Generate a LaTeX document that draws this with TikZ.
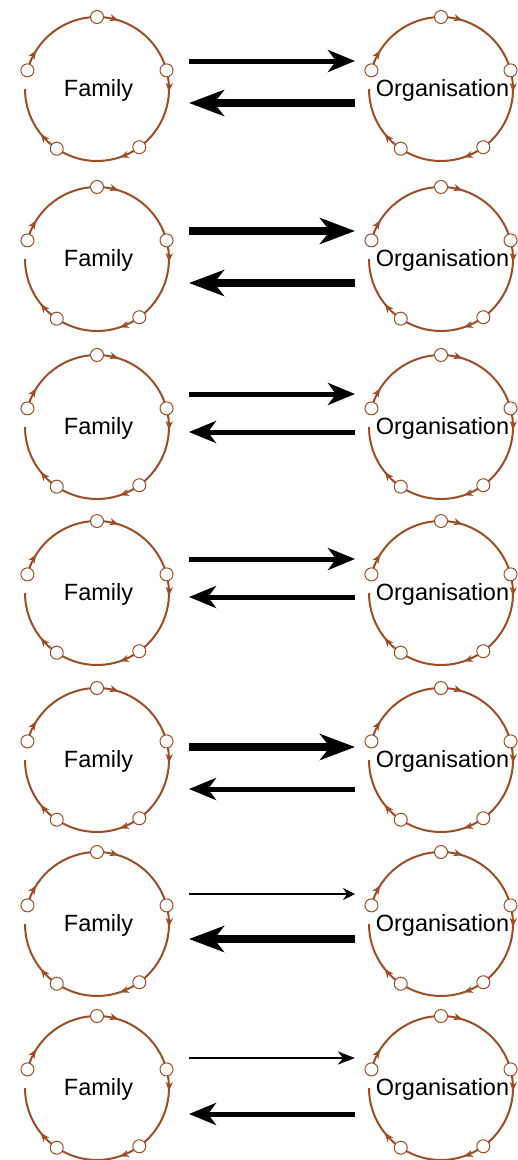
\documentclass[tikz,border=0pt]{standalone}
\usepackage{fontspec}
\setmainfont{Liberation Sans}
\usetikzlibrary{arrows.meta,decorations.markings}
\definecolor{loopbrown}{RGB}{155,78,40}
\tikzset{
  looparc/.style={loopbrown,line width=2pt,postaction={decorate},
    decoration={markings,mark=at position 22pt with {\arrow{Stealth[length=9pt,width=7pt,inset=2.5pt]}}}},
  loopdot/.style={circle,draw=loopbrown,fill=white,line width=1pt,minimum size=13pt,inner sep=0pt},
  looplabel/.style={font=\fontsize{23.5}{28}\selectfont,inner sep=0pt},
  hairflow/.style={line width=1.3pt,-{Stealth[length=12pt,width=12pt,inset=4pt]}},
  thinflow/.style={line width=2.5pt,-{Stealth[length=17pt,width=13pt,inset=5pt]}},
  midflow/.style={line width=5pt,-{Stealth[length=27pt,width=22pt,inset=8pt]}},
  thickflow/.style={line width=8pt,-{Stealth[length=35pt,width=26pt,inset=10pt]}}
}
% one feedback loop: five stations on a ring, label in the middle
\newcommand{\fbloop}[4]{%
  \begin{scope}[shift={(#2,#3)}]
    \draw[looparc] (90:72) arc[start angle=90,end angle=15,radius=72];
    \draw[looparc] (15:72) arc[start angle=15,end angle=-54,radius=72];
    \draw[looparc] (-54:72) arc[start angle=-54,end angle=-124,radius=72];
    \draw[looparc] (-124:72) arc[start angle=-124,end angle=-180,radius=72];
    \draw[looparc] (165:72) arc[start angle=165,end angle=90,radius=72];
    \foreach \a/\n in {90/a,15/b,-54/c,-124/d,165/e}
      \node[loopdot] (#1-\n) at (\a:72) {};
    \node[looplabel] (#1) at (1.5,-1.5) {#4};
  \end{scope}}

\begin{document}
\begin{tikzpicture}[x=1pt,y=1pt]
\useasboundingbox (0,0) rectangle (518,-1160);
\foreach \cy/\ty/\ts/\by/\bs [count=\i] in {
    89/61/midflow/103/thickflow,
    259/231/thickflow/283/thickflow,
    427/394/midflow/432/midflow,
    593/559/midflow/597/midflow,
    760/747/thickflow/789/midflow,
    924/894/hairflow/939/thickflow,
    1088/1058/thinflow/1114/midflow}{
  \fbloop{fam\i}{97}{-\cy}{Family}
  \fbloop{org\i}{441}{-\cy}{Organisation}
  % flows between the two loops
  \coordinate (fam\i-out) at (189,-\ty); \coordinate (org\i-in) at (355,-\ty);
  \coordinate (org\i-out) at (355,-\by); \coordinate (fam\i-in) at (189,-\by);
  \draw[\ts] (fam\i-out) -- (org\i-in);
  \draw[\bs] (org\i-out) -- (fam\i-in);
}
\end{tikzpicture}
\end{document}
